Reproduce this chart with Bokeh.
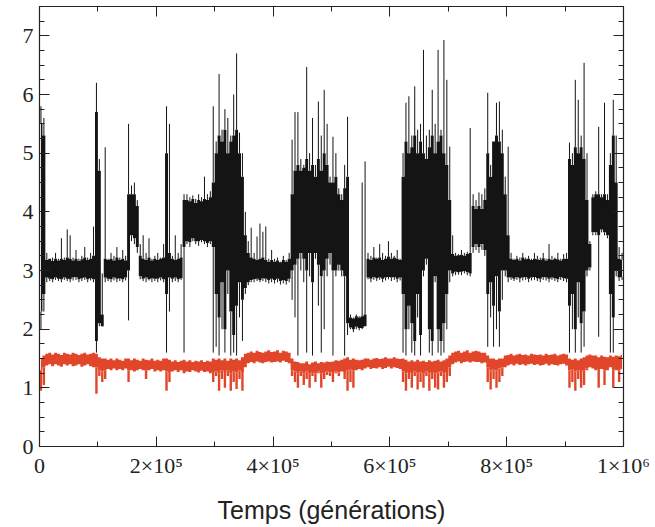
import numpy as np
from bokeh.plotting import figure
from bokeh.models import Range1d, LinearAxis, FixedTicker, CustomJSTickFormatter
from bokeh.embed import file_html
from bokeh.resources import INLINE

# bin width (generations) of the envelope samples
bin_width = 5000

# black series, 200 bins of 5000 generations
# dense core of the noise band (lower / upper)
black_core_lo = [
    2.3, 2.6, 2.88, 2.86, 2.85, 2.88, 2.86, 2.85, 2.88, 2.86,
    2.85, 2.88, 2.89, 2.85, 2.87, 2.88, 2.85, 2.87, 2.85, 1.8,
    2.1, 2.05, 2.88, 2.86, 2.85, 2.88, 2.86, 2.87, 2.85, 2.88,
    3.0, 3.6, 3.55, 3.4, 2.9, 2.86, 2.88, 2.85, 2.87, 2.86,
    2.86, 2.88, 2.85, 2.6, 2.88, 2.86, 2.88, 2.85, 2.87, 3.4,
    3.5, 3.48, 3.55, 3.5, 3.5, 3.52, 3.5, 3.47, 3.5, 3.4,
    2.6, 2.2, 2.8, 2.0, 3.0, 2.3, 1.9, 2.4, 2.8, 2.5,
    2.7, 2.8, 2.84, 2.85, 2.86, 2.84, 2.87, 2.86, 2.84, 2.86,
    2.84, 2.86, 2.82, 2.84, 2.82, 2.86, 3.0, 3.1, 3.2, 3.3,
    3.2, 3.0, 3.3, 2.8, 3.3, 3.1, 2.9, 3.0, 3.2, 3.3,
    3.0, 3.0, 3.1, 3.0, 2.9, 2.1, 2.03, 2.0, 2.04, 2.02,
    2.02, 2.05, 2.88, 2.86, 2.89, 2.87, 2.88, 2.86, 2.88, 2.89,
    2.88, 2.89, 2.86, 2.88, 2.6, 2.0, 2.4, 2.1, 1.8, 2.6,
    1.9, 3.0, 3.2, 2.0, 1.8, 2.9, 2.0, 1.8, 2.1, 2.6,
    3.0, 2.95, 2.98, 2.97, 2.98, 2.99, 2.97, 2.95, 3.4, 3.45,
    3.4, 3.45, 3.35, 2.6, 2.8, 2.4, 2.9, 2.3, 3.0, 3.0,
    2.88, 2.88, 2.86, 2.89, 2.87, 2.88, 2.89, 2.86, 2.88, 2.89,
    2.87, 2.86, 2.89, 2.88, 2.86, 2.88, 2.87, 2.85, 2.89, 2.87,
    2.86, 2.4, 2.6, 2.0, 2.8, 2.1, 2.3, 3.0, 3.05, 3.65,
    3.65, 3.6, 3.7, 3.65, 3.6, 2.6, 2.2, 3.0, 2.88, 2.89,
]
black_core_hi = [
    5.5, 5.3, 3.18, 3.2, 3.16, 3.2, 3.17, 3.2, 3.18, 3.22,
    3.2, 3.17, 3.2, 3.16, 3.19, 3.22, 3.18, 3.2, 3.25, 5.7,
    4.7, 2.25, 3.2, 3.18, 3.2, 3.17, 3.22, 3.18, 3.2, 3.17,
    4.3, 4.3, 4.3, 4.1, 3.25, 3.2, 3.18, 3.22, 3.17, 3.2,
    3.18, 3.2, 3.22, 5.0, 3.3, 3.2, 3.18, 3.2, 3.22, 4.2,
    4.2, 4.18, 4.22, 4.15, 4.2, 4.18, 4.22, 4.2, 4.25, 4.5,
    5.0, 5.3, 5.2, 5.4, 5.0, 5.2, 5.3, 5.4, 5.0, 4.6,
    3.6, 3.3, 3.22, 3.2, 3.18, 3.2, 3.22, 3.18, 3.15, 3.18,
    3.15, 3.17, 3.14, 3.18, 3.15, 3.2, 4.3, 4.7, 4.8, 4.7,
    4.75, 4.9, 4.7, 4.8, 4.6, 4.9, 4.7, 5.0, 4.8, 4.5,
    4.5, 4.6, 4.3, 4.2, 4.4, 4.6, 2.2, 2.18, 2.22, 2.2,
    2.22, 2.25, 3.2, 3.18, 3.22, 3.2, 3.22, 3.18, 3.2, 3.24,
    3.2, 3.22, 3.2, 3.18, 4.6, 5.2, 5.0, 5.1, 5.3, 5.0,
    5.2, 5.0, 4.9, 5.1, 5.3, 5.0, 5.2, 5.3, 5.0, 4.8,
    4.2, 3.28, 3.25, 3.26, 3.27, 3.25, 3.28, 3.3, 4.1, 4.05,
    4.1, 4.05, 4.2, 5.0, 4.6, 5.2, 5.3, 5.2, 5.0, 4.3,
    3.6, 3.2, 3.18, 3.2, 3.17, 3.22, 3.19, 3.2, 3.18, 3.2,
    3.19, 3.18, 3.21, 3.17, 3.2, 3.18, 3.2, 3.19, 3.17, 3.2,
    3.2, 4.9, 4.8, 5.1, 5.0, 5.1, 4.9, 4.2, 3.45, 4.25,
    4.3, 4.3, 4.25, 4.3, 4.2, 4.8, 5.3, 4.5, 3.2, 3.18,
]
# extreme excursions (thin spikes) per bin (lowest / highest)
black_lo = [
    2.0, 2.3, 2.8, 2.82, 2.8, 2.84, 2.82, 2.8, 2.84, 2.82,
    2.8, 2.83, 2.84, 2.8, 2.82, 2.84, 2.8, 2.83, 2.8, 1.6,
    2.05, 2.1, 2.8, 2.82, 2.8, 2.83, 2.8, 2.82, 2.8, 2.83,
    2.15, 3.5, 3.45, 3.3, 2.85, 2.82, 2.8, 2.83, 2.8, 2.82,
    2.8, 2.83, 2.8, 1.6, 2.3, 2.8, 2.82, 2.8, 2.84, 1.6,
    3.45, 3.4, 3.5, 3.45, 3.42, 3.48, 3.45, 3.4, 3.45, 1.6,
    1.7, 1.55, 2.0, 1.6, 2.6, 1.55, 1.6, 1.55, 2.2, 1.8,
    2.6, 2.75, 2.8, 2.8, 2.82, 2.8, 2.82, 2.8, 2.78, 2.8,
    2.78, 2.8, 2.76, 2.78, 2.76, 2.8, 2.5, 2.2, 1.55, 3.0,
    2.8, 1.6, 2.9, 1.55, 3.2, 2.4, 1.6, 2.0, 2.9, 3.1,
    1.55, 2.9, 3.0, 2.9, 1.55, 1.9, 2.0, 1.95, 2.0, 1.98,
    2.0, 2.05, 2.85, 2.8, 2.84, 2.82, 2.84, 2.8, 2.83, 2.85,
    2.82, 2.84, 2.8, 2.83, 1.6, 1.55, 2.0, 1.6, 1.55, 2.2,
    1.55, 2.9, 3.1, 1.6, 1.55, 2.8, 1.6, 1.55, 1.6, 2.0,
    2.8, 2.9, 2.92, 2.93, 2.92, 2.95, 2.92, 2.9, 3.3, 3.35,
    3.3, 3.35, 3.25, 1.7, 2.2, 1.7, 2.0, 1.7, 2.5, 2.9,
    2.8, 2.84, 2.82, 2.84, 2.8, 2.83, 2.84, 2.8, 2.83, 2.84,
    2.82, 2.8, 2.84, 2.83, 2.8, 2.84, 2.82, 2.8, 2.84, 2.82,
    2.8, 1.6, 2.0, 1.6, 2.2, 1.6, 1.7, 2.9, 3.0, 3.6,
    3.6, 1.87, 3.65, 3.6, 3.55, 1.6, 1.6, 2.9, 2.82, 2.84,
]
black_hi = [
    5.8, 5.6, 3.3, 3.2, 3.22, 3.3, 3.2, 3.55, 3.22, 3.7,
    3.6, 3.22, 3.35, 3.2, 3.25, 3.4, 3.22, 3.3, 3.75, 6.2,
    4.9, 2.95, 5.1, 3.2, 3.3, 3.25, 3.4, 3.22, 3.35, 3.25,
    5.5, 4.45, 4.5, 4.2, 3.45, 3.6, 3.3, 3.55, 3.2, 3.25,
    3.3, 3.22, 3.45, 5.8, 5.5, 3.25, 3.6, 3.3, 3.45, 4.3,
    4.3, 4.25, 4.28, 4.22, 4.3, 4.25, 4.6, 4.3, 4.35, 5.8,
    5.2, 6.35, 5.4, 5.75, 5.6, 5.3, 6.0, 6.7, 5.35, 5.0,
    4.0, 3.5, 3.73, 3.3, 3.58, 3.8, 3.66, 3.75, 3.2, 3.35,
    3.2, 3.22, 3.15, 3.25, 3.18, 3.3, 5.23, 5.7, 5.7, 4.9,
    4.8, 6.47, 5.0, 5.6, 4.8, 5.88, 5.3, 6.08, 5.5, 4.6,
    5.28, 5.0, 4.4, 4.3, 4.8, 5.62, 2.25, 2.2, 2.25, 2.22,
    4.5, 4.86, 3.3, 3.25, 3.4, 3.22, 3.45, 3.3, 3.25, 3.5,
    3.3, 3.25, 3.35, 3.2, 5.0, 5.86, 5.97, 5.3, 6.14, 5.4,
    5.5, 6.76, 5.3, 5.4, 6.08, 5.5, 6.76, 5.4, 6.93, 6.25,
    5.11, 3.6, 3.3, 3.28, 3.35, 3.3, 3.32, 5.43, 4.3, 4.2,
    4.33, 4.3, 4.4, 6.03, 4.8, 5.2, 5.86, 5.88, 5.4, 4.6,
    5.11, 3.3, 3.2, 3.25, 3.22, 3.3, 3.22, 3.25, 3.2, 3.3,
    3.25, 3.22, 3.3, 3.2, 3.45, 3.25, 3.22, 3.3, 3.2, 3.28,
    3.3, 5.18, 5.0, 6.25, 5.91, 5.3, 6.54, 5.0, 3.5, 4.3,
    4.35, 5.45, 4.3, 5.86, 4.3, 5.0, 5.91, 5.3, 3.4, 3.3,
]

# red series: dense core (lower / upper) and lowest dips per bin
red_core_lo = [
    1.3, 1.35, 1.38, 1.4, 1.37, 1.4, 1.38, 1.36, 1.4, 1.38,
    1.4, 1.37, 1.38, 1.4, 1.36, 1.38, 1.4, 1.37, 1.35, 1.35,
    1.3, 1.28, 1.3, 1.32, 1.3, 1.33, 1.3, 1.32, 1.3, 1.33,
    1.3, 1.3, 1.28, 1.3, 1.32, 1.3, 1.29, 1.3, 1.32, 1.28,
    1.3, 1.28, 1.3, 1.28, 1.27, 1.28, 1.3, 1.27, 1.3, 1.25,
    1.28, 1.27, 1.3, 1.28, 1.26, 1.29, 1.27, 1.28, 1.25, 1.27,
    1.28, 1.25, 1.3, 1.27, 1.3, 1.25, 1.28, 1.26, 1.3, 1.27,
    1.35, 1.42, 1.44, 1.42, 1.45, 1.43, 1.42, 1.44, 1.45, 1.43,
    1.44, 1.45, 1.43, 1.46, 1.44, 1.42, 1.3, 1.28, 1.25, 1.28,
    1.25, 1.28, 1.24, 1.27, 1.25, 1.28, 1.24, 1.27, 1.28, 1.26,
    1.27, 1.28, 1.26, 1.28, 1.27, 1.3, 1.31, 1.3, 1.3, 1.32,
    1.3, 1.33, 1.35, 1.32, 1.34, 1.33, 1.35, 1.32, 1.34, 1.36,
    1.33, 1.35, 1.34, 1.32, 1.28, 1.25, 1.27, 1.24, 1.28, 1.25,
    1.26, 1.24, 1.28, 1.25, 1.27, 1.24, 1.26, 1.28, 1.25, 1.27,
    1.35, 1.4, 1.43, 1.45, 1.42, 1.44, 1.45, 1.43, 1.45, 1.44,
    1.44, 1.42, 1.43, 1.35, 1.3, 1.32, 1.3, 1.33, 1.35, 1.35,
    1.38, 1.4, 1.38, 1.41, 1.39, 1.4, 1.38, 1.4, 1.41, 1.39,
    1.4, 1.38, 1.39, 1.41, 1.38, 1.4, 1.39, 1.38, 1.4, 1.41,
    1.38, 1.3, 1.32, 1.28, 1.3, 1.27, 1.3, 1.33, 1.35, 1.33,
    1.3, 1.32, 1.32, 1.3, 1.3, 1.35, 1.32, 1.3, 1.3, 1.32,
]
red_lo = [
    0.95, 1.05, 1.38, 1.4, 1.37, 1.4, 1.38, 1.36, 1.4, 1.38,
    1.4, 1.37, 1.38, 1.4, 1.36, 1.38, 1.4, 1.37, 1.35, 0.9,
    1.2, 1.1, 1.15, 1.32, 1.3, 1.33, 1.3, 1.32, 1.3, 1.33,
    1.1, 1.3, 1.28, 1.3, 1.32, 1.3, 1.15, 1.3, 1.32, 1.28,
    1.3, 1.28, 1.3, 0.95, 1.1, 1.28, 1.3, 1.27, 1.3, 1.25,
    1.28, 1.27, 1.3, 1.28, 1.26, 1.29, 1.27, 1.28, 1.25, 1.1,
    1.2, 0.95, 1.15, 1.0, 1.2, 0.95, 1.1, 0.98, 1.15, 0.95,
    1.35, 1.42, 1.44, 1.42, 1.45, 1.43, 1.42, 1.44, 1.45, 1.43,
    1.44, 1.45, 1.43, 1.46, 1.44, 1.42, 1.2, 1.1, 1.0, 1.2,
    1.05, 1.15, 1.0, 1.2, 1.1, 1.25, 1.0, 1.15, 1.22, 1.2,
    1.1, 1.25, 1.2, 1.28, 1.15, 0.95, 1.1, 1.0, 1.3, 1.32,
    1.3, 1.33, 1.35, 1.32, 1.34, 1.33, 1.35, 1.32, 1.34, 1.36,
    1.33, 1.35, 1.34, 1.32, 1.1, 0.95, 1.15, 1.0, 1.2, 0.97,
    1.1, 1.0, 1.2, 0.95, 1.15, 1.0, 0.97, 1.2, 1.0, 1.1,
    1.2, 1.4, 1.43, 1.45, 1.42, 1.44, 1.45, 1.43, 1.45, 1.44,
    1.44, 1.42, 1.43, 1.1, 0.97, 1.15, 1.0, 1.1, 1.2, 1.35,
    1.38, 1.4, 1.38, 1.41, 1.39, 1.4, 1.38, 1.4, 1.41, 1.39,
    1.4, 1.38, 1.39, 1.41, 1.38, 1.4, 1.39, 1.38, 1.4, 1.41,
    1.38, 1.0, 1.1, 0.95, 1.15, 1.0, 1.05, 1.3, 1.35, 1.33,
    1.3, 1.0, 1.32, 1.05, 1.3, 1.35, 1.0, 1.3, 1.1, 1.32,
]
red_hi = [
    1.5, 1.55, 1.58, 1.6, 1.57, 1.6, 1.58, 1.56, 1.6, 1.58,
    1.57, 1.6, 1.58, 1.56, 1.58, 1.6, 1.57, 1.58, 1.6, 1.58,
    1.52, 1.5, 1.5, 1.48, 1.5, 1.47, 1.5, 1.48, 1.46, 1.5,
    1.5, 1.47, 1.5, 1.48, 1.46, 1.5, 1.48, 1.47, 1.5, 1.46,
    1.48, 1.46, 1.5, 1.5, 1.48, 1.45, 1.47, 1.44, 1.46, 1.48,
    1.45, 1.47, 1.44, 1.46, 1.45, 1.47, 1.44, 1.46, 1.45, 1.5,
    1.48, 1.5, 1.47, 1.5, 1.46, 1.5, 1.48, 1.5, 1.47, 1.52,
    1.58, 1.6, 1.62, 1.6, 1.63, 1.61, 1.6, 1.62, 1.64, 1.61,
    1.62, 1.64, 1.6, 1.63, 1.62, 1.6, 1.5, 1.45, 1.44, 1.42,
    1.42, 1.45, 1.4, 1.43, 1.45, 1.42, 1.44, 1.43, 1.45, 1.44,
    1.45, 1.47, 1.46, 1.48, 1.5, 1.52, 1.48, 1.5, 1.48, 1.47,
    1.48, 1.5, 1.5, 1.48, 1.5, 1.51, 1.49, 1.5, 1.52, 1.5,
    1.5, 1.52, 1.5, 1.49, 1.5, 1.48, 1.45, 1.47, 1.45, 1.48,
    1.45, 1.46, 1.44, 1.47, 1.45, 1.46, 1.48, 1.45, 1.47, 1.5,
    1.55, 1.6, 1.62, 1.63, 1.6, 1.62, 1.64, 1.6, 1.62, 1.63,
    1.62, 1.6, 1.6, 1.55, 1.5, 1.5, 1.48, 1.5, 1.5, 1.55,
    1.56, 1.58, 1.55, 1.57, 1.58, 1.56, 1.57, 1.55, 1.58, 1.57,
    1.56, 1.57, 1.55, 1.58, 1.56, 1.57, 1.58, 1.55, 1.57, 1.58,
    1.57, 1.5, 1.48, 1.5, 1.47, 1.5, 1.52, 1.55, 1.57, 1.55,
    1.55, 1.52, 1.55, 1.53, 1.52, 1.55, 1.53, 1.55, 1.54, 1.56,
]

x_major = [0, 200000, 400000, 600000, 800000, 1000000]
x_minor = [100000 * k for k in range(11)]
x_tick_labels = ["0", "2×10⁵", "4×10⁵", "6×10⁵", "8×10⁵", "1×10⁶"]
y_major = [0, 1, 2, 3, 4, 5, 6, 7]
y_minor = [0.25 * k for k in range(31)]
x_title = "Temps (générations)"

BLACK = "#141414"
RED = "#e2462a"

centers = np.arange(len(black_lo)) * bin_width + bin_width / 2

p = figure(width=652, height=526, x_range=Range1d(0, 1e6), y_range=Range1d(0, 7.5),
           output_backend="svg", toolbar_location=None,
           min_border_left=39, min_border_right=29, min_border_top=6, min_border_bottom=79)
p.background_fill_color = "white"
p.border_fill_color = "white"
p.outline_line_color = "#222222"
p.outline_line_width = 1.2
p.xgrid.visible = False
p.ygrid.visible = False

# black: dense core band + thin spikes
p.varea_step(x=centers, y1=black_core_lo, y2=black_core_hi, step_mode="center",
             fill_color=BLACK)
p.segment(x0=centers, y0=black_core_hi, x1=centers, y1=black_hi,
          line_color=BLACK, line_width=1)
p.segment(x0=centers, y0=black_lo, x1=centers, y1=black_core_lo,
          line_color=BLACK, line_width=1)

# red: dense core band + downward dips
p.varea_step(x=centers, y1=red_core_lo, y2=red_hi, step_mode="center", fill_color=RED)
p.segment(x0=centers, y0=red_lo, x1=centers, y1=red_core_lo,
          line_color=RED, line_width=2.4)

xticker = FixedTicker(ticks=x_major, minor_ticks=x_minor)
yticker = FixedTicker(ticks=y_major, minor_ticks=y_minor)

for ax in p.xaxis:
    ax.ticker = xticker
    ax.major_label_overrides = {v: s for v, s in zip(x_major, x_tick_labels)}
    ax.axis_label = x_title
for ax in p.yaxis:
    ax.ticker = yticker

for ax in list(p.xaxis) + list(p.yaxis):
    ax.major_tick_in = 10
    ax.major_tick_out = 0
    ax.minor_tick_in = 5
    ax.minor_tick_out = 0
    ax.major_tick_line_color = "#222222"
    ax.minor_tick_line_color = "#222222"
    ax.axis_line_color = "#222222"
    ax.major_label_text_font = "Liberation Serif"
    ax.major_label_text_font_size = "22px"
    ax.major_label_text_color = "#222222"
    ax.major_label_standoff = 6
    ax.axis_label_text_font = "Liberation Sans"
    ax.axis_label_text_font_size = "25px"
    ax.axis_label_text_font_style = "normal"
    ax.axis_label_text_color = "#222222"
    ax.axis_label_standoff = 15

blank = CustomJSTickFormatter(code="return ''")
top = LinearAxis(ticker=xticker, formatter=blank, major_tick_in=10, major_tick_out=0,
                 minor_tick_in=5, minor_tick_out=0, major_label_standoff=0,
                 major_label_text_font_size="0px", axis_line_color="#222222",
                 major_tick_line_color="#222222", minor_tick_line_color="#222222")
right = LinearAxis(ticker=yticker, formatter=blank, major_tick_in=10, major_tick_out=0,
                   minor_tick_in=5, minor_tick_out=0, major_label_standoff=0,
                   major_label_text_font_size="0px", axis_line_color="#222222",
                   major_tick_line_color="#222222", minor_tick_line_color="#222222")
p.add_layout(top, "above")
p.add_layout(right, "right")

open("out.html", "w").write(file_html(p, INLINE))
